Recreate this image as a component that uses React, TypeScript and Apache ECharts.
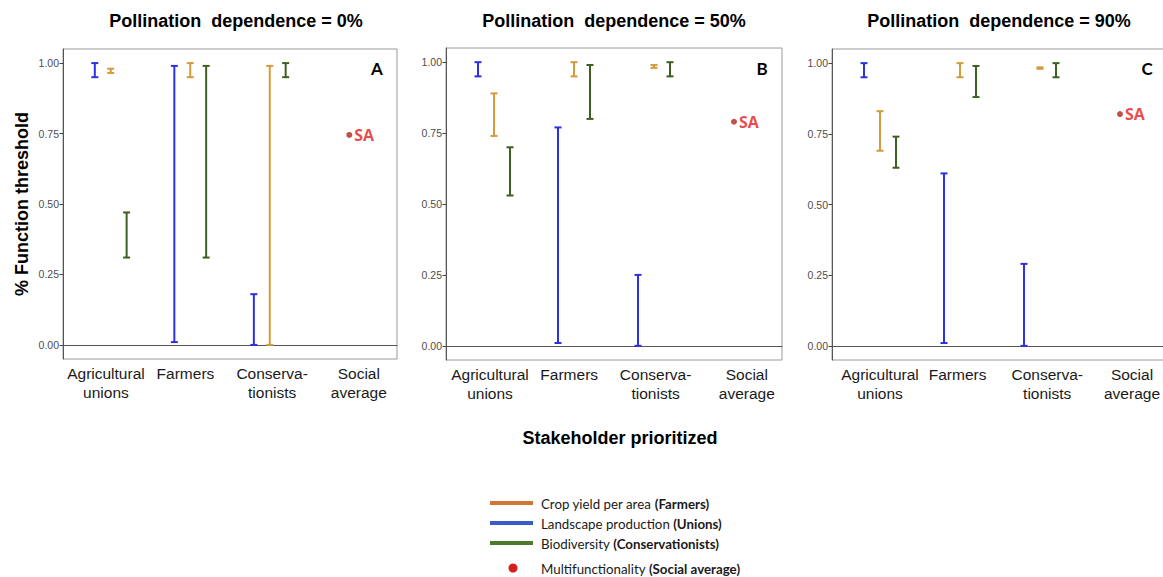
import React, { useEffect, useRef } from "react";
import * as echarts from "echarts";

const categories = ["Agricultural\nunions", "Farmers", "Conserva-\ntionists", "Social\naverage"];
const panelTitles = ["Pollination  dependence = 0%", "Pollination  dependence = 50%", "Pollination  dependence = 90%"];
const panelLetters = ["A", "B", "C"];
const yTicks = [0, 0.25, 0.5, 0.75, 1];

// [low, high] for stakeholder groups: Agricultural unions, Farmers, Conservationists
const landscapeA = [[0.95, 1.0], [0.01, 0.99], [0.0, 0.18]];
const cropYieldA = [[0.965, 0.98], [0.95, 1.0], [0.0, 0.99]];
const biodiversityA = [[0.31, 0.47], [0.31, 0.99], [0.95, 1.0]];

const landscapeB = [[0.95, 1.0], [0.01, 0.77], [0.0, 0.25]];
const cropYieldB = [[0.74, 0.89], [0.95, 1.0], [0.98, 0.99]];
const biodiversityB = [[0.53, 0.7], [0.8, 0.99], [0.95, 1.0]];

const landscapeC = [[0.95, 1.0], [0.01, 0.61], [0.0, 0.29]];
const cropYieldC = [[0.69, 0.83], [0.95, 1.0], [0.98, 0.985]];
const biodiversityC = [[0.63, 0.74], [0.88, 0.99], [0.95, 1.0]];

const socialAverage = [0.745, 0.79, 0.82];

const legendItems = [
  { name: "Crop yield per area ", who: "(Farmers)" },
  { name: "Landscape production ", who: "(Unions)" },
  { name: "Biodiversity ", who: "(Conservationists)" },
  { name: "Multifunctionality ", who: "(Social average)" },
];

const BLUE = "#2f2fe6";
const ORANGE = "#d49a3c";
const GREEN = "#3e5f22";
const SA_DOT = "#b3261e";
const SA_TEXT = "#e31a1a";

const grids = [
  { left: 63, top: 49, width: 334, height: 310 },
  { left: 446, top: 48, width: 336, height: 312 },
  { left: 832, top: 49, width: 336, height: 311 },
];

// category label anchors per panel (hand-placed in the original figure)
const xLabelAnchorsByPanel = [
  [0.94, 1.94, 3.03, 4.12],
  [0.95, 1.94, 3.02, 4.16],
  [1.0, 1.97, 3.09, 4.15],
];

const panels = [
  { landscape: landscapeA, crop: cropYieldA, bio: biodiversityA },
  { landscape: landscapeB, crop: cropYieldB, bio: biodiversityB },
  { landscape: landscapeC, crop: cropYieldC, bio: biodiversityC },
];

function errorSeries(name: string, ranges: number[][], panel: number, dodge: number, color: string) {
  return {
    type: "custom",
    name,
    xAxisIndex: panel,
    yAxisIndex: panel,
    encode: { x: 0, y: [1, 2] },
    data: ranges.map((r, i) => [i + 1 + dodge, r[0], r[1]]),
    renderItem: (params: any, api: any) => {
      const x = api.value(0);
      const top = api.coord([x, api.value(2)]);
      const bot = api.coord([x, api.value(1)]);
      const hw = 3.5;
      const style = { stroke: color, lineWidth: 2 };
      return {
        type: "group",
        children: [
          { type: "line", shape: { x1: top[0], y1: top[1], x2: bot[0], y2: bot[1] }, style },
          { type: "line", shape: { x1: top[0] - hw, y1: top[1], x2: top[0] + hw, y2: top[1] }, style },
          { type: "line", shape: { x1: bot[0] - hw, y1: bot[1], x2: bot[0] + hw, y2: bot[1] }, style },
        ],
      };
    },
  };
}

export default function App() {
  const ref = useRef<HTMLDivElement>(null);
  useEffect(() => {
    if (!ref.current) return;
    const chart = echarts.init(ref.current, undefined, { renderer: "svg" });

    const series: any[] = [];
    panels.forEach((p, k) => {
      series.push(errorSeries("Landscape production", p.landscape, k, -0.2, BLUE));
      series.push(errorSeries("Crop yield per area", p.crop, k, 0, ORANGE));
      series.push(errorSeries("Biodiversity", p.bio, k, 0.2, GREEN));
      series.push({
        type: "scatter",
        name: "Multifunctionality",
        xAxisIndex: k,
        yAxisIndex: k,
        symbol: "circle",
        symbolSize: 6,
        itemStyle: { color: SA_DOT },
        data: [[4, socialAverage[k]]],
        label: {
          show: true,
          position: "right",
          distance: 2,
          formatter: "SA",
          color: SA_TEXT,
          fontFamily: "Open Sans",
          fontWeight: "bold",
          fontSize: 16,
        },
      });
    });

    const graphic: any[] = [];
    grids.forEach((g, k) => {
      graphic.push({
        type: "text",
        x: [236, 614, 999][k],
        y: 21,
        style: {
          text: panelTitles[k],
          textAlign: "center",
          textVerticalAlign: "middle",
          fontFamily: "Liberation Sans, Arial, sans-serif",
          fontWeight: "bold",
          fontSize: 18,
          fill: "#000",
        },
      });
      graphic.push({
        type: "text",
        x: [377, 762, 1147][k],
        y: 68,
        style: {
          text: panelLetters[k],
          textAlign: "center",
          textVerticalAlign: "middle",
          fontFamily: "Lato",
          fontWeight: "bold",
          fontSize: 17,
          fill: "#000",
        },
      });
    });
    graphic.push({
      type: "text",
      x: 22,
      y: 204,
      rotation: Math.PI / 2,
      style: {
        text: "% Function threshold",
        textAlign: "center",
        textVerticalAlign: "middle",
        fontFamily: "Liberation Sans, Arial, sans-serif",
        fontWeight: "bold",
        fontSize: 18,
        fill: "#000",
      },
    });
    graphic.push({
      type: "text",
      x: 620,
      y: 438,
      style: {
        text: "Stakeholder prioritized",
        textAlign: "center",
        textVerticalAlign: "middle",
        fontFamily: "Liberation Sans, Arial, sans-serif",
        fontWeight: "bold",
        fontSize: 18,
        fill: "#000",
      },
    });
    const legendColors = ["#d2762f", "#3a5cc8", "#4e7a2c", "#d41f1f"];
    const legendY = [503, 523, 543, 568];
    legendItems.forEach((it, i) => {
      if (i < 3) {
        graphic.push({
          type: "line",
          shape: { x1: 490, y1: legendY[i], x2: 533, y2: legendY[i] },
          style: { stroke: legendColors[i], lineWidth: 4 },
        });
      } else {
        graphic.push({
          type: "circle",
          shape: { cx: 513, cy: legendY[i], r: 4.5 },
          style: { fill: legendColors[i] },
        });
      }
      graphic.push({
        type: "text",
        x: 541,
        y: legendY[i] + 1,
        style: {
          text: `{n|${it.name}}{b|${it.who}}`,
          textVerticalAlign: "middle",
          rich: {
            n: { fontFamily: "Lato", fontSize: 13.3, fill: "#1a1a1a", color: "#1a1a1a" },
            b: { fontFamily: "Lato", fontSize: 13.3, fontWeight: "bold", fill: "#1a1a1a", color: "#1a1a1a" },
          },
        },
      });
    });

    const option: any = {
      animation: false,
      backgroundColor: "#ffffff",
      grid: grids.map((g) => ({
        ...g,
        show: true,
        borderColor: "#9a9a9a",
        borderWidth: 1,
        backgroundColor: "transparent",
        containLabel: false,
        outerBoundsMode: "none",
      })),
      xAxis: grids.map((_, k) => ({
        type: "value",
        gridIndex: k,
        min: 0.4,
        max: 4.6,
        splitLine: { show: false },
        axisLine: { show: true, lineStyle: { color: "#555", width: 1 } },
        axisTick: { show: false },
        axisLabel: {
          customValues: xLabelAnchorsByPanel[k],
          formatter: (v: number) => categories[Math.round(v) - 1] ?? "",
          fontFamily: "Liberation Sans, Arial, sans-serif",
          fontSize: 15.5,
          lineHeight: 19,
          color: "#1a1a1a",
          margin: 5,
          hideOverlap: false,
        },
      })),
      yAxis: grids.map((_, k) => ({
        type: "value",
        gridIndex: k,
        min: -0.05,
        max: 1.05,
        splitLine: { show: false },
        axisLine: { show: true, lineStyle: { color: "#555", width: 1 } },
        axisTick: { show: true, length: 3.5, customValues: yTicks, lineStyle: { color: "#444" } },
        axisLabel: {
          customValues: yTicks,
          formatter: (v: number) => v.toFixed(2),
          fontFamily: "Liberation Sans, Arial, sans-serif",
          fontSize: 10.5,
          color: "#4d4d4d",
          margin: 4,
        },
      })),
      series,
      graphic,
    };
    chart.setOption(option);
    return () => chart.dispose();
  }, []);

  return (
    <div
      ref={ref}
      style={{ position: "absolute", left: 0, top: 0, width: 1163, height: 577 }}
    />
  );
}
